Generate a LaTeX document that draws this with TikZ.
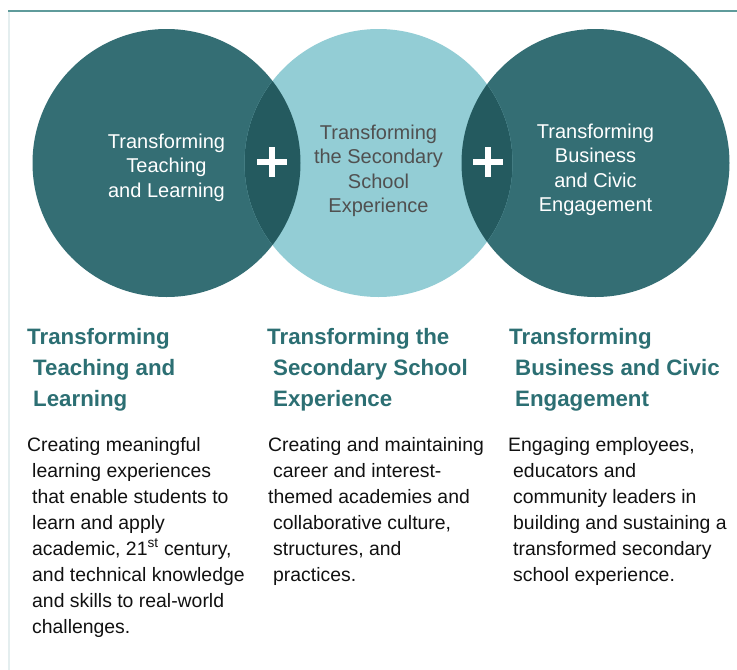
\documentclass[tikz,border=0pt]{standalone}
\usepackage{fontspec}
\setmainfont{Liberation Sans}
\definecolor{darkteal}{HTML}{346E74}
\definecolor{lightteal}{HTML}{93CDD5}
\definecolor{overlapteal}{HTML}{245A5F}
\definecolor{headteal}{HTML}{2C6F73}
\definecolor{topline}{HTML}{5F9B9B}
\definecolor{sideline}{HTML}{E4EEEF}
\definecolor{midtext}{HTML}{505050}
\definecolor{bodytext}{HTML}{111111}
\newcommand\ind{\hspace*{5pt}}
\newcommand\hind{\hspace*{6pt}}
\begin{document}
\begin{tikzpicture}[x=1pt,y=-1pt,
  ctext/.style={anchor=base,inner sep=0pt,font=\fontsize{20}{24.5}\selectfont},
  headtext/.style={anchor=base west,inner sep=0pt,text=headteal,font=\fontsize{22.3}{31}\selectfont\bfseries},
  bodyblock/.style={anchor=base west,inner sep=0pt,text=bodytext,font=\fontsize{19.4}{26.1}\selectfont}]
\useasboundingbox (0,0) rectangle (737,670);
\fill[white] (0,0) rectangle (737,670);
% frame lines
\draw[sideline,line width=2pt] (9,10) -- (9,670);
\draw[topline,line width=2pt] (8,10.5) -- (737,10.5);
% circles
\coordinate (cL) at (166.5,163);
\coordinate (cM) at (378.5,163);
\coordinate (cR) at (595.5,163);
\fill[darkteal] (cL) circle (134pt);
\fill[darkteal] (cR) circle (134pt);
\fill[lightteal] (cM) circle (134pt);
\begin{scope}
  \clip (cL) circle (134pt);
  \fill[overlapteal] (cM) circle (134pt);
\end{scope}
\begin{scope}
  \clip (cR) circle (134pt);
  \fill[overlapteal] (cM) circle (134pt);
\end{scope}
% plus signs
\fill[white] (257,158.8) rectangle (287,165.2);
\fill[white] (268.8,147) rectangle (275.2,177);
\fill[white] (473,158.8) rectangle (503,165.2);
\fill[white] (484.8,147) rectangle (491.2,177);
% circle texts
\node[ctext,text=white] (tL) at (166.5,148) {\begin{tabular}[t]{@{}c@{}}Transforming\\Teaching\\and Learning\end{tabular}};
\node[ctext,text=midtext] (tM) at (378.5,139) {\begin{tabular}[t]{@{}c@{}}Transforming\\the Secondary\\School\\Experience\end{tabular}};
\node[ctext,text=white] (tR) at (595.5,138) {\begin{tabular}[t]{@{}c@{}}Transforming\\Business\\and Civic\\Engagement\end{tabular}};
% headings
\node[headtext] (hL) at (27,344) {\begin{tabular}[t]{@{}l@{}}Transforming\\\hind Teaching and\\\hind Learning\end{tabular}};
\node[headtext] (hM) at (267,344) {\begin{tabular}[t]{@{}l@{}}Transforming the\\\hind Secondary School\\\hind Experience\end{tabular}};
\node[headtext] (hR) at (509,344) {\begin{tabular}[t]{@{}l@{}}Transforming\\\hind Business and Civic\\\hind Engagement\end{tabular}};
% body texts
\node[bodyblock] (bL) at (27,451) {\begin{tabular}[t]{@{}l@{}}Creating meaningful\\\ind learning experiences\\\ind that enable students to\\\ind learn and apply\\\ind academic, 21\textsuperscript{st} century,\\\ind and technical knowledge\\\ind and skills to real-world\\\ind challenges.\end{tabular}};
\node[bodyblock] (bM) at (268,451) {\begin{tabular}[t]{@{}l@{}}Creating and maintaining\\\ind career and interest-\\themed academies and\\\ind collaborative culture,\\\ind structures, and\\\ind practices.\end{tabular}};
\node[bodyblock] (bR) at (508,451) {\begin{tabular}[t]{@{}l@{}}Engaging employees,\\\ind educators and\\\ind community leaders in\\\ind building and sustaining a\\\ind transformed secondary\\\ind school experience.\end{tabular}};
\end{tikzpicture}
\end{document}
